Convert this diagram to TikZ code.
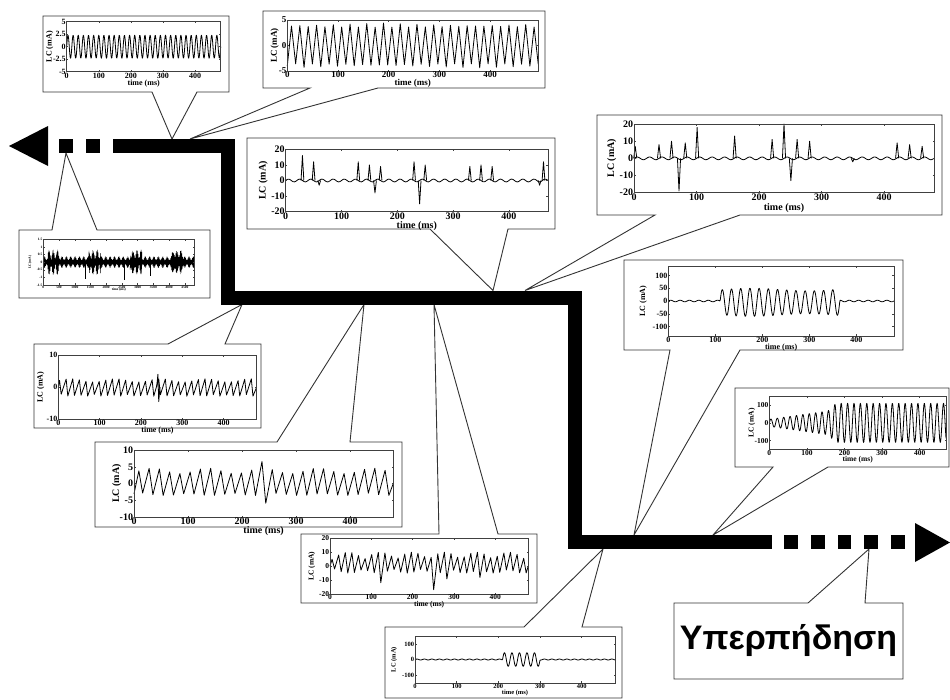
\documentclass[tikz,border=0pt]{standalone}
\usepackage{fontspec}
\setmainfont{Liberation Serif}
\newfontfamily\greekfont{Liberation Sans}

% frame, ticks and labels of one small LC plot (inside a plot scope)
% #1 xmax, #2 ymax, #3 font size, #4 y ticks, #5 x ticks, #6 ylabel gap, #7 xlabel gap
\newcommand{\lcaxes}[7]{%
  \draw[frame] (0,-#2) rectangle (#1,#2);
  \foreach \t in {#5} {
    \draw[frame] (\t,-#2) -- ++(0pt,1.5pt) (\t,#2) -- ++(0pt,-1.5pt);
    \node[lab, below, font=\fontsize{#3}{#3}\selectfont\bfseries] at (\t,-#2) {\t};
  }
  \foreach \t in {#4} {
    \draw[frame] (0,\t) -- ++(1.5pt,0pt) (#1,\t) -- ++(-1.5pt,0pt);
    \node[lab, left, font=\fontsize{#3}{#3}\selectfont\bfseries] at (0,\t) {\t};
  }
  \node[lab, rotate=90, font=\fontsize{#3}{#3}\selectfont\bfseries] at ([xshift=-#6pt]0,0) {LC (mA)};
  \node[lab, font=\fontsize{#3}{#3}\selectfont\bfseries] at ([yshift=-#7pt]#1/2,-#2) {time (ms)};
}

% callout box, pointer on the bottom or on the top edge
% #1 left, #2 top, #3 right, #4 bottom, #5 #6 pointer base, #7 tip
\newcommand{\calloutdown}[7]{%
  \draw[panel] (#1,#2) -- (#3,#2) -- (#3,#4) -- (#6,#4) -- (#7) -- (#5,#4) -- (#1,#4) -- cycle;}
\newcommand{\calloutup}[7]{%
  \draw[panel] (#1,#4) -- (#3,#4) -- (#3,#2) -- (#6,#2) -- (#7) -- (#5,#2) -- (#1,#2) -- cycle;}

\begin{document}
\begin{tikzpicture}[
    x=1pt, y=-1pt,
    panel/.style={draw=black!80, line width=0.9pt, fill=white, line join=miter},
    frame/.style={draw=black!75, line width=0.5pt},
    sig/.style={line width=0.8pt, line join=round},
    lab/.style={inner sep=0.8pt},
    bar/.style={line width=14pt, line join=miter}
  ]
  \useasboundingbox (0,0) rectangle (950,699);

  % points on the path
  \coordinate (tipA) at (172,139);
  \coordinate (tipB) at (190,139);
  \coordinate (tipC) at (493,290.5);
  \coordinate (tipD) at (525,290.5);
  \coordinate (tipE) at (66,153);
  \coordinate (tipF) at (242,304.5);
  \coordinate (tipG) at (364,304.5);
  \coordinate (tipH) at (434,304.5);
  \coordinate (tipI) at (603,549);
  \coordinate (tipJ) at (634,535);
  \coordinate (tipK) at (713,535);
  \coordinate (tipL) at (869,549);

  % callout boxes
  \calloutdown{43}{16}{229}{92}{152}{197}{tipA}
  \calloutdown{263}{11}{545}{88}{310}{378}{tipB}
  \calloutdown{247}{138}{555}{229}{430}{508}{tipC}
  \calloutdown{597}{115}{942}{215}{655}{740}{tipD}
  \calloutup{19}{230}{210}{298}{52}{97}{tipE}
  \calloutup{34}{344}{261}{428}{168}{225}{tipF}
  \calloutup{95}{442}{402}{527}{277}{350}{tipG}
  \calloutup{301}{534}{537}{603}{439}{498}{tipH}
  \calloutup{385}{627}{622}{698}{524}{582}{tipI}
  \calloutdown{624}{260}{903}{350}{670}{740}{tipJ}
  \calloutdown{735}{388}{949}{467}{773}{828}{tipK}
  \calloutup{674}{603}{903}{679}{808}{865}{tipL}

  % A: sine
  \begin{scope}[shift={(66.7,46.7)}, x={(0.3208pt,0pt)}, y={(0pt,5pt)}]
    \draw[sig] plot[domain=0:480, samples=400] (\x,{2.3*sin(\x*22.5)});
    \lcaxes{480}{5}{8}{5,2.5,0,-2.5,-5}{0,100,...,400}{17}{11.5}
  \end{scope}

  % B: triangle wave
  \begin{scope}[shift={(287.3,45.5)}, x={(0.507pt,0pt)}, y={(0pt,5.1pt)}]
    \draw[sig] (0,-4) \foreach \i in {1,...,60} { -- ({\i*8.25},{(2*mod(\i,2)-1)*(4.4-0.8*abs(sin(\i*47)))}) };
    \lcaxes{495}{5}{9}{5,0,-5}{0,100,...,400}{12.5}{12}
  \end{scope}

  % C: spikes
  \begin{scope}[shift={(285.7,180.5)}, x={(0.558pt,0pt)}, y={(0pt,1.56pt)}]
    \draw[sig] plot[domain=0:470, samples=240] (\x,{0.9*sin(\x*18)});
    \foreach \t/\h in {30/16, 50/12, 60/-3, 130/12, 150/10, 160/-8, 170/9, 230/12, 240/-15,
                       250/10, 330/9, 350/10, 370/9, 455/-3, 462/12}
      \draw[sig] (\t-2.5,0) -- (\t,\h) -- (\t+2.5,0);
    \lcaxes{470}{20}{10}{20,10,0,-10,-20}{0,100,...,400}{22.4}{14}
  \end{scope}

  % D: spikes
  \begin{scope}[shift={(634,158.35)}, x={(0.625pt,0pt)}, y={(0pt,1.7175pt)}]
    \draw[sig] plot[domain=0:480, samples=240] (\x,{0.8*sin(\x*18)});
    \foreach \t/\h in {2/7, 40/8, 60/10, 72/-19, 82/9, 101/18, 161/13, 221/11, 240/20, 251/-13,
                       261/11, 281/10, 350/-2, 421/9, 441/8, 461/7}
      \draw[sig] (\t-2.5,0) -- (\t,\h) -- (\t+2.5,0);
    \lcaxes{480}{20}{10}{20,10,0,-10,-20}{0,100,...,400}{22.3}{15}
  \end{scope}

  % E: long record
  \begin{scope}[shift={(43.3,262.15)}, x={(0.03146pt,0pt)}, y={(0pt,15.23pt)}]
    \draw[sig, line width=0.4pt] (0,0) \foreach \i in {1,...,400} { -- ({\i*12},{(2*mod(\i,2)-1)*(0.25+0.12*sin(\i*31)+0.45*(sin(\i*3.3)>0.6)*abs(sin(\i*17)))}) };
    \foreach \t/\h in {1320/-1.1, 2560/-1.15, 3400/-0.9}
      \draw[sig, line width=0.4pt] (\t,0) -- (\t,\h);
    \lcaxes{4800}{1.5}{3.5}{1.5,1,0.5,0,-0.5,-1,-1.5}{0,500,...,4500}{13.3}{4.5}
  \end{scope}

  % F: small sawtooth
  \begin{scope}[shift={(58.3,387.15)}, x={(0.4133pt,0pt)}, y={(0pt,3.215pt)}]
    \draw[sig] (0,0) \foreach \i in {0,...,29} { -- ({\i*16+3},{2.1+0.5*sin(\i*53)}) -- ({\i*16+7},{-2.2-0.6*abs(sin(\i*71))}) } -- (480,0);
    \draw[sig] (238,0) -- (241,4) -- (243,-4.5) -- (246,0);
    \lcaxes{480}{10}{8}{10,0,-10}{0,100,...,400}{17.6}{11.5}
  \end{scope}

  % G: sawtooth
  \begin{scope}[shift={(134,483.65)}, x={(0.540pt,0pt)}, y={(0pt,3.365pt)}]
    \draw[sig] (0,-3) \foreach \i in {0,...,24} { -- ({\i*19+9},{3.8+0.8*sin(\i*67)+2*(\i==12)}) -- ({\i*19+16},{-2.8-0.7*abs(sin(\i*41))-2.5*(\i==12)}) } -- (480,0);
    \lcaxes{480}{10}{10}{10,5,0,-5,-10}{0,100,...,400}{17.3}{14}
  \end{scope}

  % H: irregular
  \begin{scope}[shift={(330,566.15)}, x={(0.413pt,0pt)}, y={(0pt,1.3925pt)}]
    \draw[sig] (0,0) \foreach \i in {0,...,29} { -- ({\i*16+5},{5+5*abs(sin(\i*37))}) -- ({\i*16+11},{-2-3*abs(sin(\i*41))-12*(\i==15)-7*(\i==7)-6*(\i==17)-6*(\i==22)}) } -- (480,0);
    \lcaxes{480}{20}{7.5}{20,10,0,-10,-20}{0,100,...,400}{18.3}{10.5}
  \end{scope}

  % I: short burst
  \begin{scope}[shift={(415,659.5)}, x={(0.4167pt,0pt)}, y={(0pt,0.156pt)}]
    \draw[sig] plot[domain=0:480, samples=400] (\x,{(\x>210)*(\x<300)*45*sin((\x-210)*20)+3*sin(\x*20)});
    \lcaxes{480}{150}{6.5}{100,0,-100}{0,100,...,400}{21}{10.5}
  \end{scope}

  % J: long burst
  \begin{scope}[shift={(668.3,301)}, x={(0.470pt,0pt)}, y={(0pt,0.255pt)}]
    \draw[sig] plot[domain=0:480, samples=500] (\x,{(\x>110)*(\x<365)*((52+6*sin((\x-110)*1.4))*sin((\x-110)/19.6*360)-5)+3*sin(\x*18)});
    \lcaxes{480}{137}{8}{100,50,0,-50,-100}{0,100,...,400}{25}{11.5}
  \end{scope}

  % K: growing oscillation
  \begin{scope}[shift={(769.3,422.85)}, x={(0.376pt,0pt)}, y={(0pt,0.178pt)}]
    \draw[sig] plot[domain=0:470, samples=500] (\x,{((\x<150)*(20+0.3*\x)+(\x>=150)*min(110,55+2*(\x-150)))*sin(\x/17*360)});
    \lcaxes{470}{147}{7.5}{100,0,-100}{0,100,...,400}{17.6}{10.5}
  \end{scope}

  % label
  \node[font=\greekfont\bfseries\fontsize{34}{34}\selectfont] (jump) at (788.5,641) {Υπερπήδηση};

  % thick path
  \draw[bar] (113,146) -- (227.5,146) -- (227.5,297.5) -- (575,297.5) -- (575,542) -- (772,542);
  \foreach \x in {59,86}
    \fill (\x,139) rectangle ++(13.5,14);
  \foreach \x in {784,811,837.5,864,891}
    \fill (\x,535) rectangle ++(13.5,14);
  \fill (9,146) -- (48,126) -- (48,166) -- cycle;
  \fill (950,542.5) -- (915,523) -- (915,562) -- cycle;
\end{tikzpicture}
\end{document}
